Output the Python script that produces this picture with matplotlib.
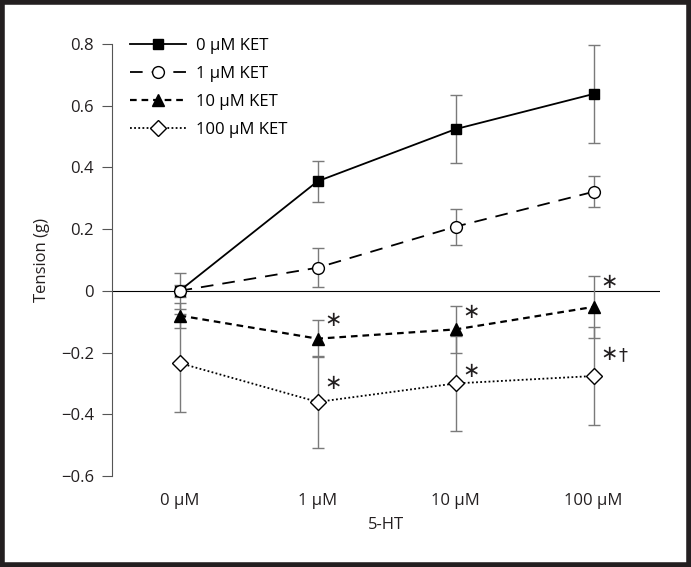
# Tension vs 5-HT concentration for four KET pretreatments
import matplotlib.pyplot as plt
from matplotlib.patches import Rectangle

plt.rcParams['font.family'] = ['Open Sans', 'DejaVu Sans']

# Data
doses = ['0 µM', '1 µM', '10 µM', '100 µM']
ket_labels = ['0 µM KET', '1 µM KET', '10 µM KET', '100 µM KET']

ket0_mean = [0.0, 0.355, 0.524, 0.638]
ket0_err = [0.058, 0.066, 0.11, 0.16]
ket1_mean = [0.0, 0.075, 0.208, 0.321]
ket1_err = [0.02, 0.063, 0.058, 0.05]
ket10_mean = [-0.08, -0.155, -0.125, -0.052]
ket10_err = [0.04, 0.06, 0.075, 0.1]
ket100_mean = [-0.234, -0.36, -0.30, -0.276]
ket100_err = [0.158, 0.15, 0.155, 0.158]

# significance marks: (x index, y value, dagger?)
sig_marks = [(1, -0.095, False), (1, -0.30, False),
             (2, -0.07, False), (2, -0.26, False),
             (3, 0.03, False), (3, -0.205, True)]

x = list(range(len(doses)))

fig = plt.figure(figsize=(6.91, 5.67), dpi=100)
ax = fig.add_axes([0.162, 0.1605, 0.793, 0.762])

err_kw = dict(ecolor='#7a7a7a', elinewidth=1.0, capsize=4, capthick=1.0, clip_on=False)

c0 = ax.errorbar(x, ket0_mean, yerr=ket0_err, color='black', linestyle='-', linewidth=1.3,
                 marker='s', markersize=7, markerfacecolor='black', **err_kw)
c1 = ax.errorbar(x, ket1_mean, yerr=ket1_err, color='black', linestyle=(0, (7, 5)), linewidth=1.3,
                 marker='o', markersize=8.5, markerfacecolor='white', markeredgewidth=1.0, **err_kw)
c2 = ax.errorbar(x, ket10_mean, yerr=ket10_err, color='black', linestyle=(0, (3, 2.2)), linewidth=1.6,
                 marker='^', markersize=9, markerfacecolor='black', **err_kw)
c3 = ax.errorbar(x, ket100_mean, yerr=ket100_err, color='black', linestyle=(0, (1, 1.3)), linewidth=1.3,
                 marker='D', markersize=8, markerfacecolor='white', markeredgewidth=1.0, **err_kw)

for xi, yi, dagger in sig_marks:
    ax.text(xi + 0.05, yi, '\u2217', fontsize=15, ha='left', va='center', color='#231f20',
            family='DejaVu Sans')
    if dagger:
        ax.text(xi + 0.18, yi - 0.003, '†', fontsize=13, ha='left', va='center', color='#231f20',
                family='DejaVu Sans')

# zero line
ax.axhline(0, color='black', linewidth=0.8, zorder=0)

ax.set_xlim(-0.49, 3.48)
ax.set_ylim(-0.6, 0.8)
ax.set_yticks([-0.6, -0.4, -0.2, 0, 0.2, 0.4, 0.6, 0.8])
ax.set_yticklabels(['\u22120.6', '\u22120.4', '\u22120.2', '0', '0.2', '0.4', '0.6', '0.8'])
ax.set_xticks(x)
ax.set_xticklabels(doses)
ax.tick_params(axis='x', length=0, pad=12, labelsize=12, colors='#231f20')
ax.tick_params(axis='y', direction='out', length=7, width=0.8, labelsize=12,
               colors='#231f20', color='#555555', pad=6)

for side in ['top', 'right', 'bottom']:
    ax.spines[side].set_visible(False)
ax.spines['left'].set_color('#555555')
ax.spines['left'].set_linewidth(0.8)

ax.set_ylabel('Tension (g)', fontsize=12, color='#231f20', labelpad=8)
ax.set_xlabel('5-HT', fontsize=12, color='#231f20', labelpad=6)

ax.legend([c0[0], c1[0], c2[0], c3[0]], ket_labels, loc='upper left',
          bbox_to_anchor=(0.02, 1.03), frameon=False, fontsize=12,
          handlelength=3.4, handletextpad=0.6, labelspacing=0.72, borderaxespad=0)

# dark frame around the figure
fig.patches.append(Rectangle((0.003, 0.003), 0.994, 0.994, transform=fig.transFigure,
                             fill=False, edgecolor='#231f20', linewidth=4))

fig.savefig('out.png', dpi=100)
